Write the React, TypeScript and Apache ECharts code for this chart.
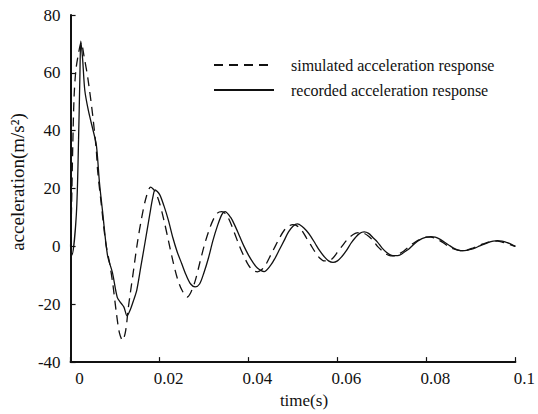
import React, { useEffect, useRef } from "react";
import * as echarts from "echarts";

const xTicks = [0, 0.02, 0.04, 0.06, 0.08, 0.1];
const yTicks = [-40, -20, 0, 20, 40, 60, 80];

const simTime = [
  0, 0.0002, 0.0005, 0.0008, 0.0012, 0.0017, 0.0024, 0.003, 0.0039, 0.005, 0.0058, 0.0061, 0.0069, 0.0079,
  0.0088, 0.0095, 0.0103, 0.011, 0.0117, 0.0124, 0.013, 0.014, 0.015, 0.016, 0.017, 0.018, 0.019, 0.02,
  0.021, 0.022, 0.023, 0.024, 0.025, 0.0262, 0.027, 0.028, 0.029, 0.03, 0.031, 0.032, 0.033, 0.034,
  0.035, 0.036, 0.037, 0.038, 0.039, 0.04, 0.041, 0.042, 0.043, 0.044, 0.045, 0.046, 0.047, 0.048,
  0.049, 0.05, 0.051, 0.052, 0.053, 0.054, 0.055, 0.056, 0.057, 0.058, 0.059, 0.06, 0.061, 0.062,
  0.063, 0.064, 0.065, 0.066, 0.067, 0.068, 0.069, 0.07, 0.071, 0.072, 0.073, 0.074, 0.075, 0.076,
  0.077, 0.078, 0.079, 0.08, 0.081, 0.082, 0.083, 0.084, 0.085, 0.086, 0.087, 0.088, 0.089, 0.09,
  0.091, 0.092, 0.093, 0.094, 0.095, 0.096, 0.097, 0.098, 0.099, 0.1,
];
const simAccel = [
  0, 12, 35, 52, 61, 66, 70.5, 66, 58, 45, 33, 26, 14.7, 1.3,
  -6, -13, -23, -30, -32.5, -29, -21, -10, 1, 10, 17, 20.5, 19, 15,
  9, 2, -5, -11, -15, -17.5, -16, -12, -6, 0, 5, 9, 11.5, 12,
  11, 8, 4, 0, -3.5, -6.5, -8.3, -8.8, -8, -6, -3, 0, 3, 5.5,
  7, 7.5, 7, 5.5, 3, 0.5, -2, -4, -5, -5, -4, -2, 0, 2,
  3.5, 4.5, 4.8, 4.5, 3.5, 2, 0, -1.5, -2.7, -3.3, -3.3, -2.5, -1.5, -0.2,
  1, 2, 2.8, 3.2, 3.2, 2.8, 2, 1, 0, -0.8, -1.3, -1.5, -1.3, -0.8,
  -0.2, 0.5, 1, 1.5, 1.8, 1.8, 1.5, 1, 0.5, 0,
];

const recTime = [
  0, 0.0003, 0.0013, 0.0018, 0.0021, 0.0023, 0.0027, 0.0032, 0.004, 0.005, 0.0058, 0.0065, 0.0072, 0.0083,
  0.0094, 0.0105, 0.0113, 0.012, 0.0127, 0.0134, 0.0142, 0.0149, 0.0158, 0.0167, 0.0178, 0.0185, 0.019, 0.02,
  0.021, 0.022, 0.023, 0.024, 0.025, 0.026, 0.027, 0.028, 0.029, 0.03, 0.031, 0.032, 0.033, 0.034,
  0.0347, 0.036, 0.037, 0.038, 0.039, 0.04, 0.041, 0.042, 0.0435, 0.045, 0.046, 0.047, 0.048, 0.049,
  0.05, 0.051, 0.052, 0.053, 0.054, 0.055, 0.056, 0.057, 0.058, 0.059, 0.06, 0.061, 0.062, 0.063,
  0.064, 0.065, 0.066, 0.067, 0.068, 0.069, 0.07, 0.071, 0.072, 0.073, 0.074, 0.075, 0.076, 0.077,
  0.078, 0.079, 0.08, 0.081, 0.082, 0.083, 0.084, 0.085, 0.086, 0.087, 0.088, 0.089, 0.09, 0.091,
  0.092, 0.093, 0.094, 0.095, 0.096, 0.097, 0.098, 0.099, 0.1,
];
const recAccel = [
  0, -3, 11, 37, 59, 71, 65, 54, 47, 40.5, 35, 22, 12, -3,
  -9, -17.6, -19.5, -21, -24, -22, -18.5, -15, -7, 1, 11, 17, 19.5, 18,
  14, 9, 3, -2, -6, -10, -13, -14, -13, -9, -4, 2, 7, 11,
  12, 10, 7, 3.5, 0, -3, -5.5, -7.5, -8.7, -6.5, -4, -1, 2, 5,
  7, 7.8, 7, 5.5, 3.5, 1, -1.5, -3.5, -5, -5.5, -5, -3.5, -1.5, 1,
  3, 4.5, 5, 4.5, 3, 1.5, -0.5, -2, -3, -3.2, -3, -2, -1, 0.5,
  1.8, 2.7, 3.2, 3.4, 3.2, 2.5, 1.5, 0.5, -0.5, -1.2, -1.5, -1.4, -1, -0.5,
  0.2, 0.8, 1.4, 1.8, 2, 1.8, 1.4, 0.8, 0,
];

const SERIF = "'Liberation Serif', 'Times New Roman', serif";

export default function App() {
  const ref = useRef<HTMLDivElement>(null);
  useEffect(() => {
    if (!ref.current) return;
    const chart = echarts.init(ref.current, undefined, { renderer: "svg" });
    const sim = simTime.map((t, i) => [t, simAccel[i]]);
    const rec = recTime.map((t, i) => [t, recAccel[i]]);
    chart.setOption({
      animation: false,
      backgroundColor: "#ffffff",
      grid: { left: 63, right: 17, top: 15, bottom: 40, containLabel: false },
      legend: {
        orient: "vertical",
        left: 208,
        top: 52,
        itemWidth: 60,
        itemHeight: 14,
        itemGap: 9,
        itemStyle: { opacity: 0 },
        textStyle: { fontFamily: SERIF, fontSize: 16, color: "#111", padding: [0, 0, 0, 12] },
        data: ["simulated acceleration response", "recorded acceleration response"],
      },
      xAxis: {
        type: "value",
        min: 0,
        max: 0.1,
        interval: 0.02,
        name: "time(s)",
        nameLocation: "middle",
        nameGap: 24,
        nameTextStyle: { fontFamily: SERIF, fontSize: 17, color: "#111", padding: [0, 0, 0, 22] },
        axisLine: { onZero: false, lineStyle: { color: "#111", width: 2 } },
        axisTick: { inside: true, length: 5, lineStyle: { color: "#111", width: 1.2 } },
        axisLabel: {
          fontFamily: SERIF,
          fontSize: 17,
          color: "#111",
          margin: 8,
          padding: [0, 0, 0, 18],
          formatter: (v: number) => {
            const m = xTicks.find((t) => Math.abs(t - v) < 1e-9);
            return m === undefined ? "" : String(Number(m.toFixed(2)));
          },
        },
        splitLine: { show: false },
      },
      yAxis: {
        type: "value",
        min: -40,
        max: 80,
        interval: 20,
        name: "acceleration(m/s²)",
        nameLocation: "middle",
        nameGap: 40,
        nameTextStyle: { fontFamily: SERIF, fontSize: 19, color: "#111", padding: [0, 0, 0, 13] },
        axisLine: { show: true, onZero: false, lineStyle: { color: "#111", width: 2 } },
        axisTick: { show: true, inside: true, length: 5, lineStyle: { color: "#111", width: 1.2 } },
        axisLabel: {
          fontFamily: SERIF,
          fontSize: 17,
          color: "#111",
          margin: 10,
          formatter: (v: number) => (yTicks.includes(v) ? String(v) : ""),
        },
        splitLine: { show: false },
      },
      series: [
        {
          name: "simulated acceleration response",
          type: "line",
          data: sim,
          symbol: "none",
          smooth: 0.3,
          lineStyle: { color: "#111", width: 1.3, type: [9, 6] },
          itemStyle: { color: "#111" },
        },
        {
          name: "recorded acceleration response",
          type: "line",
          data: rec,
          symbol: "none",
          smooth: 0.3,
          lineStyle: { color: "#111", width: 1.3, type: "solid" },
          itemStyle: { color: "#111" },
        },
      ],
    });
    return () => chart.dispose();
  }, []);
  return (
    <div
      ref={ref}
      style={{ position: "fixed", left: 0, top: 0, width: 538, height: 414, background: "#fff" }}
    />
  );
}
